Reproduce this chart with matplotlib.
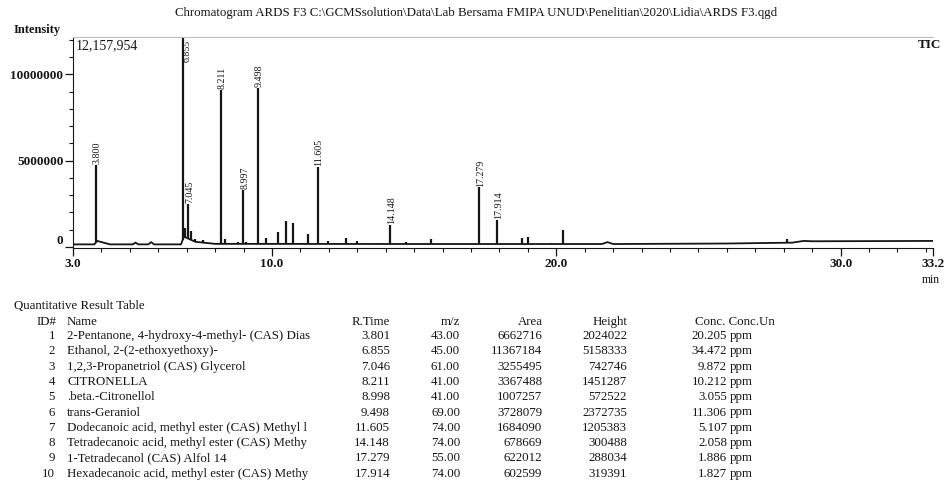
import matplotlib as mpl
mpl.use('Agg')
import matplotlib.pyplot as plt
import numpy as np

plt.rcParams['font.family'] = ['Liberation Serif', 'DejaVu Serif']

W, H = 944, 482

# chromatogram (TIC), heights in counts
peak_times = [3.800, 6.855, 6.95, 7.045, 7.15, 7.28, 7.57, 8.211, 8.35, 8.8, 8.997, 9.1,
              9.498, 9.8, 10.2, 10.5, 10.75, 11.25, 11.605, 11.96, 12.6, 13.0,
              14.148, 14.7, 15.6, 17.279, 17.914, 18.8, 19.0, 19.8, 20.23, 28.1]
peak_heights = [4.75e6, 13.0e6, 1.1e6, 2.5e6, 0.9e6, 0.45e6, 0.4e6, 9.1e6, 0.45e6, 0.3e6, 3.3e6, 0.3e6,
                9.2e6, 0.5e6, 0.86e6, 1.5e6, 1.4e6, 0.77e6, 4.65e6, 0.35e6, 0.5e6, 0.35e6,
                1.3e6, 0.3e6, 0.45e6, 3.45e6, 1.55e6, 0.52e6, 0.55e6, 0.22e6, 1.0e6, 0.45e6]
peak_labels = ['3.800', '6.855', '', '7.045', '', '', '', '8.211', '', '', '8.997', '',
               '9.498', '', '', '', '', '', '11.605', '', '', '',
               '14.148', '', '', '17.279', '17.914', '', '', '', '', '']

base_times = [3.0, 3.75, 3.85, 4.3, 5.1, 5.2, 5.3, 5.65, 5.75, 5.85, 6.8, 6.9, 7.3, 8.0,
              16.0, 21.6, 21.8, 22.0, 26.0, 28.3, 28.7, 29.0, 33.3]
base_levels = [0.15e6, 0.15e6, 0.35e6, 0.15e6, 0.15e6, 0.25e6, 0.15e6, 0.15e6, 0.28e6, 0.15e6,
               0.15e6, 0.6e6, 0.3e6, 0.18e6, 0.17e6, 0.17e6, 0.28e6, 0.17e6, 0.2e6, 0.25e6,
               0.35e6, 0.33e6, 0.35e6]

y_max = 12157954

# quantitative result table
ids = [1, 2, 3, 4, 5, 6, 7, 8, 9, 10]
names = ['2-Pentanone, 4-hydroxy-4-methyl- (CAS) Dias',
         'Ethanol, 2-(2-ethoxyethoxy)-',
         '1,2,3-Propanetriol (CAS) Glycerol',
         'CITRONELLA',
         '.beta.-Citronellol',
         'trans-Geraniol',
         'Dodecanoic acid, methyl ester (CAS) Methyl l',
         'Tetradecanoic acid, methyl ester (CAS) Methy',
         '1-Tetradecanol (CAS) Alfol 14',
         'Hexadecanoic acid, methyl ester (CAS) Methy']
rtimes = ['3.801', '6.855', '7.046', '8.211', '8.998', '9.498', '11.605', '14.148', '17.279', '17.914']
mz = ['43.00', '45.00', '61.00', '41.00', '41.00', '69.00', '74.00', '74.00', '55.00', '74.00']
areas = ['6662716', '11367184', '3255495', '3367488', '1007257', '3728079', '1684090', '678669', '622012', '602599']
heights = ['2024022', '5158333', '742746', '1451287', '572522', '2372735', '1205383', '300488', '288034', '319391']
concs = ['20.205', '34.472', '9.872', '10.212', '3.055', '11.306', '5.107', '2.058', '1.886', '1.827']


def fx(x):
    return x / W


def fy(y):
    return 1 - y / H


ink = '#151515'
fig = plt.figure(figsize=(W / 100, H / 100), dpi=100)
ax = fig.add_axes([fx(73), fy(248), fx(933) - fx(73), fy(37) - fy(248)])

# baseline + peaks
ax.plot(base_times, base_levels, color=ink, lw=1.3)
bases = np.interp(peak_times, base_times, base_levels)
ax.vlines(peak_times, bases, peak_heights, color=ink, lw=1.6)

for t, h, lab in zip(peak_times, peak_heights, peak_labels):
    if not lab:
        continue
    if h > y_max:
        ax.text(t + 0.17, y_max - 0.15e6, lab, rotation=90, ha='center', va='top',
                fontsize=7.2, color=ink)
    else:
        ax.text(t + 0.05, h + 0.05e6, lab, rotation=90, ha='center', va='bottom',
                fontsize=7.2, color=ink)

ax.set_xlim(3.0, 33.25)
ax.set_ylim(-0.06e6, y_max)
ax.set_xticks([3.0, 10.0, 20.0, 30.0, 33.25])
ax.set_xticklabels(['3.0', '10.0', '20.0', '30.0', '33.2'])
ax.set_xticks(np.arange(4, 34, 1), minor=True)
ax.set_yticks([0, 5000000, 10000000])
ax.set_yticklabels(['0', '5000000', '10000000'])
ax.set_yticks(np.arange(1e6, 12.5e6, 1e6), minor=True)
ax.tick_params(axis='both', which='major', length=6, width=0.9, labelsize=9.5, colors=ink, pad=1)
ax.tick_params(axis='both', which='minor', length=3, width=0.8, colors=ink)
for lab in ax.get_xticklabels() + ax.get_yticklabels():
    lab.set_fontweight('bold')
ax.get_yticklabels()[0].set_va('bottom')

ax.spines['right'].set_visible(False)
ax.spines['top'].set_color('#bdbdbd')
ax.spines['top'].set_linestyle((0, (2, 1)))
ax.spines['left'].set_color(ink)
ax.spines['bottom'].set_color(ink)

fig.text(fx(476), fy(13), r'Chromatogram ARDS F3 C:\GCMSsolution\Data\Lab Bersama FMIPA UNUD\Penelitian\2020\Lidia\ARDS F3.qgd',
         ha='center', va='center', fontsize=9.3, color=ink)
fig.text(fx(14), fy(30), 'Intensity', ha='left', va='center', fontsize=9, color=ink, fontweight='bold')
fig.text(fx(76), fy(46), '{:,}'.format(y_max), ha='left', va='center', fontsize=10, color=ink)
fig.text(fx(918), fy(45), 'TIC', ha='left', va='center', fontsize=9.5, color=ink, fontweight='bold')
fig.text(fx(922), fy(280), 'min', ha='left', va='center', fontsize=8.5, color=ink)

# table
fs = 9.3
fig.text(fx(14), fy(306), 'Quantitative Result Table', ha='left', va='center', fontsize=fs, color=ink)
hy = fy(322)
fig.text(fx(37), hy, 'ID#', ha='left', va='center', fontsize=fs, color=ink)
fig.text(fx(67), hy, 'Name', ha='left', va='center', fontsize=fs, color=ink)
fig.text(fx(390), hy, 'R.Time', ha='right', va='center', fontsize=fs, color=ink)
fig.text(fx(460), hy, 'm/z', ha='right', va='center', fontsize=fs, color=ink)
fig.text(fx(543), hy, 'Area', ha='right', va='center', fontsize=fs, color=ink)
fig.text(fx(627), hy, 'Height', ha='right', va='center', fontsize=fs, color=ink)
fig.text(fx(695), hy, 'Conc. Conc.Un', ha='left', va='center', fontsize=fs, color=ink)

for i in range(len(ids)):
    y = fy(336 + i * 15.3)
    fig.text(fx(55), y, str(ids[i]), ha='right', va='center', fontsize=fs, color=ink)
    fig.text(fx(67), y, names[i], ha='left', va='center', fontsize=fs, color=ink)
    fig.text(fx(390), y, rtimes[i], ha='right', va='center', fontsize=fs, color=ink)
    fig.text(fx(460), y, mz[i], ha='right', va='center', fontsize=fs, color=ink)
    fig.text(fx(542), y, areas[i], ha='right', va='center', fontsize=fs, color=ink)
    fig.text(fx(627), y, heights[i], ha='right', va='center', fontsize=fs, color=ink)
    fig.text(fx(727), y, concs[i], ha='right', va='center', fontsize=fs, color=ink)
    fig.text(fx(730), y, 'ppm', ha='left', va='center', fontsize=fs, color=ink)

fig.savefig('out.png', dpi=100)
